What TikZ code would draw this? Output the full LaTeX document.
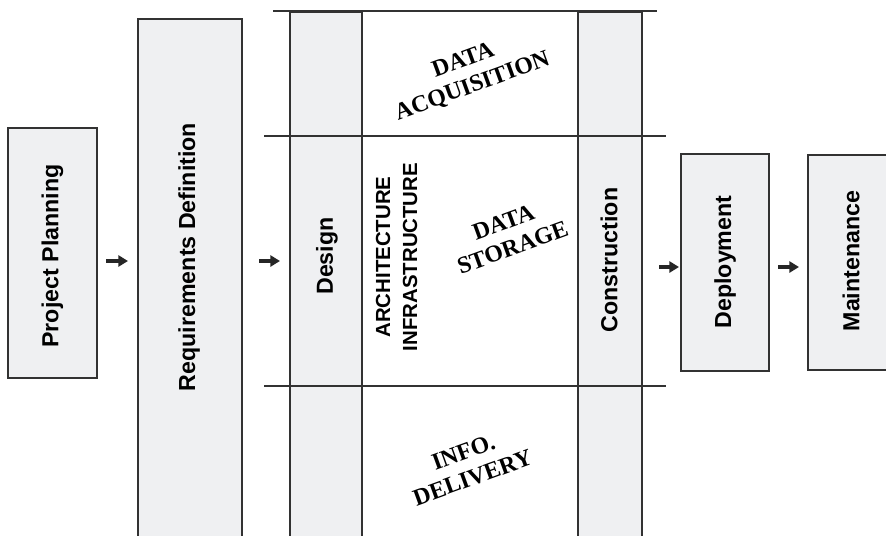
\documentclass[tikz,border=0pt]{standalone}
\usepackage{fontspec}
\newfontfamily\phasefont{Liberation Sans}
\newfontfamily\areafont{Liberation Serif}
\usetikzlibrary{arrows.meta,positioning}
\definecolor{phasegray}{RGB}{239,240,242}
\definecolor{edgegray}{RGB}{50,50,50}

\begin{document}
\begin{tikzpicture}[x=0.5pt,y=-0.5pt]

%FRAME
\useasboundingbox (0,0) rectangle (886,535);
\clip (0,0) rectangle (886,535);

%%%%%%%%%%%%%%%%%%%%%%%%%%%%%%%%%%%%%%%%%%%%%%%%%%%%%%%%%%%%%%
%styles
\tikzstyle{phase}=[draw=edgegray,fill=phasegray,line width=1pt,inner sep=0pt]
\tikzstyle{phasetext}=[font=\phasefont\bfseries\fontsize{11.6}{14}\selectfont,rotate=90]
\tikzstyle{archtext}=[font=\phasefont\bfseries\fontsize{10.2}{13.5}\selectfont,rotate=90,align=center]
\tikzstyle{areatext}=[font=\areafont\bfseries\fontsize{11.9}{13.5}\selectfont,rotate=20,align=center]
\tikzstyle{band}=[draw=edgegray,line width=1pt]
\tikzstyle{flow}=[-{Triangle[length=4.8pt,width=5.5pt]},line width=2pt,black!85]

%%%%%%%%%%%%%%%%%%%%%%%%%%%%%%%%%%%%%%%%%%%%%%%%%%%%%%%%%%%%%%
%boxes
%planning
\node[phase,minimum width=44.5pt,minimum height=125pt] (plan) at (52.5,253) {};
\node[phasetext] (plantext) at (52.5,256) {Project Planning};
%requirements
\node[phase,anchor=north west,minimum width=52pt,minimum height=280pt] (req) at (137,18) {};
\node[phasetext] (reqtext) at (189,257) {Requirements Definition};
%design
\node[phase,anchor=north west,minimum width=36pt,minimum height=285pt] (design) at (289,11) {};
\node[phasetext] (designtext) at (327,256) {Design};
%construction
\node[phase,anchor=north west,minimum width=32pt,minimum height=285pt] (constr) at (577,11) {};
\node[phasetext] (constrtext) at (609,260) {Construction};
%deployment
\node[phase,minimum width=44pt,minimum height=108.5pt] (deploy) at (725,262.5) {};
\node[phasetext] (deploytext) at (725,262) {Deployment};
%maintenance
\node[phase,minimum width=44pt,minimum height=107.5pt] (maint) at (852,262.5) {};
\node[phasetext] (mainttext) at (851,261) {Maintenance};

%bands
\draw[band] (273,11) -- (657,11);
\draw[band] (264,136) -- (666,136);
\draw[band] (264,386) -- (666,386);

%areas
\node[archtext] (arch) at (396.5,257) {ARCHITECTURE\\INFRASTRUCTURE};
\node[areatext] (acq) at (468,74) {DATA\\ACQUISITION};
\node[areatext] (storage) at (508,235) {DATA\\STORAGE};
\node[areatext] (delivery) at (468,465) {INFO.\\DELIVERY};

%%%%%%%%%%%%%%%%%%%%%%%%%%%%%%%%%%%%%%%%%%%%%%%%%%%%%%%%%%%%%%
%ARROWS
\coordinate (row1) at (0,261);
\coordinate (row2) at (0,267);
\draw[flow,shorten <=4pt,shorten >=4.5pt] (plan.east |- row1) -- (req.west |- row1);
\draw[flow,shorten <=8pt,shorten >=4.5pt] (req.east |- row1) -- (design.west |- row1);
\draw[flow,shorten <=8pt,shorten >=0.5pt] (constr.east |- row2) -- (deploy.west |- row2);
\draw[flow,shorten <=4pt,shorten >=4pt] (deploy.east |- row2) -- (maint.west |- row2);
\end{tikzpicture}
\end{document}
